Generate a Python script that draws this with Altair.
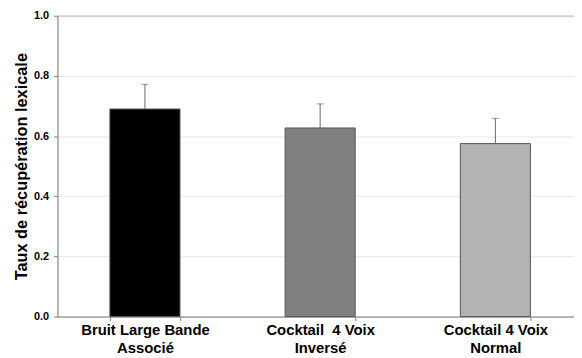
import altair as alt
import pandas as pd

categories = ["Bruit Large Bande\nAssocié", "Cocktail \u00a04 Voix\nInversé", "Cocktail 4 Voix\nNormal"]
means = [0.69, 0.627, 0.575]
errors = [0.082, 0.080, 0.084]
y_ticks = [0.0, 0.2, 0.4, 0.6, 0.8, 1.0]
bar_colors = ["#000000", "#808080", "#b3b3b3"]

df = pd.DataFrame({"cat": categories, "mean": means, "err": errors})
df["top"] = df["mean"] + df["err"]

FONT = "Liberation Sans"

x = alt.X(
    "cat:N",
    sort=categories,
    title=None,
    scale=alt.Scale(paddingInner=0.6, paddingOuter=0.274, align=0.546),
    axis=alt.Axis(
        labelAngle=0,
        labelExpr="split(datum.label, '\\n')",
        labelFont=FONT,
        labelFontSize=15,
        labelFontWeight="bold",
        labelColor="#000000",
        labelLineHeight=18,
        labelPadding=2,
        tickBand="extent",
        tickSize=4,
        tickColor="#808080",
        domainColor="#808080",
        grid=False,
    ),
)

y_scale = alt.Scale(domain=[0, 1], nice=False)
y_axis = alt.Axis(
    values=y_ticks,
    format=".1f",
    title="Taux de récupération lexicale",
    titleFont=FONT,
    titleFontSize=16.5,
    titleFontWeight="bold",
    titleColor="#000000",
    titlePadding=4,
    labelFont=FONT,
    labelFontSize=11,
    labelFontWeight="bold",
    labelColor="#000000",
    labelPadding=5,
    tickSize=4,
    tickColor="#808080",
    domainColor="#808080",
    grid=True,
    gridColor={"condition": {"test": "datum.value === 1", "value": "#d4d4d4"}, "value": "#e6e6e6"},
    gridWidth={"condition": {"test": "datum.value === 1", "value": 2}, "value": 1},
)

base = alt.Chart(df)

bars = base.mark_bar(stroke="#555555", strokeWidth=1).encode(
    x=x,
    y=alt.Y("mean:Q", scale=y_scale, axis=y_axis),
    fill=alt.Fill("cat:N", sort=categories, scale=alt.Scale(domain=categories, range=bar_colors), legend=None),
)

rules = base.mark_rule(color="#666666", strokeWidth=1).encode(
    x=alt.X("cat:N", sort=categories),
    y=alt.Y("mean:Q", scale=y_scale),
    y2="top:Q",
)

caps = base.mark_tick(color="#666666", thickness=1, size=7, orient="horizontal").encode(
    x=alt.X("cat:N", sort=categories),
    y=alt.Y("top:Q", scale=y_scale),
)

chart = (
    alt.layer(bars, rules, caps)
    .properties(
        width=522,
        height=304,
        padding={"left": 50, "top": 6, "right": 0, "bottom": 38},
        autosize=alt.AutoSizeParams(type="none"),
        background="#ffffff",
    )
    .configure_view(stroke=None)
    .configure(font=FONT)
)

chart.save("out.html", embed_options={"renderer": "svg", "actions": False})
